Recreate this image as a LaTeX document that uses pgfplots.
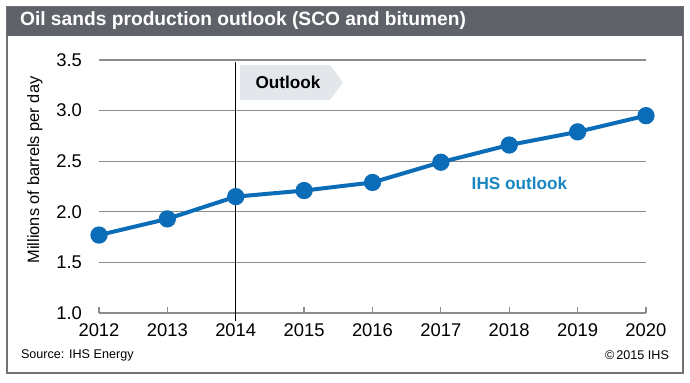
\documentclass[border=0pt]{standalone}
\usepackage{pgfplots}
\pgfplotsset{compat=1.18}
\usepackage{fontspec}
\setmainfont{Liberation Sans}
\definecolor{titlegray}{HTML}{5F6369}
\definecolor{framegray}{HTML}{6E7277}
\definecolor{lineblue}{HTML}{0B6CB8}
\definecolor{textblue}{HTML}{1A86C0}
\definecolor{gridgray}{HTML}{8C8C8C}
\definecolor{boxgray}{HTML}{E3E6EA}
\begin{document}
\begin{tikzpicture}[x=0.5pt,y=0.5pt]
% background and frame
\fill[white] (0,0) rectangle (690,382);
\draw[framegray,line width=1.2pt] (7,9) rectangle (683,375);
\fill[titlegray] (7,346) rectangle (683,375);
\node[anchor=west,text=white,font=\bfseries\fontsize{9.6}{11}\selectfont] at (13,361) {Oil sands production outlook (SCO and bitumen)};
% outlook arrow box
\fill[boxgray] (240,282) -- (330,282) -- (343,299.5) -- (330,317) -- (240,317) -- cycle;
\node[font=\bfseries\fontsize{8.6}{10}\selectfont] at (288,300) {Outlook};
\begin{axis}[
  at={(49.5pt,34.5pt)}, anchor=south west,
  scale only axis, width=273.5pt, height=126.5pt,
  xmin=2012, xmax=2020, ymin=1.0, ymax=3.5,
  xtick={2012,...,2020},
  ytick={1.0,1.5,...,3.5},
  xticklabel style={/pgf/number format/1000 sep={}, yshift=-2pt},
  yticklabel style={xshift=-5pt, /pgf/number format/.cd,fixed,fixed zerofill,precision=1},
  /pgf/number format/assume math mode=true,
  tick label style={font=\fontsize{9.2}{10}\selectfont},
  axis x line*=bottom,
  axis y line*=left,
  x axis line style={draw=gridgray,line width=0.6pt,-},
  y axis line style={draw=none},
  xtick style={draw=gridgray,line width=0.6pt},
  ytick style={draw=none},
  tick align=inside,
  major tick length=3pt,
  ymajorgrids,
  grid style={gridgray,line width=0.6pt},
  clip=false,
]
\addplot[draw=black, line width=0.6pt, forget plot] coordinates {(2014,0.92) (2014,3.48)};
\addplot[lineblue, line width=2pt, mark=*, mark size=3.3pt, mark options={fill=lineblue,draw=lineblue}] coordinates {
(2012,1.77) (2013,1.93) (2014,2.15) (2015,2.21) (2016,2.29) (2017,2.49) (2018,2.66) (2019,2.79) (2020,2.95)};
\node[text=textblue,font=\bfseries\fontsize{8.6}{10}\selectfont] at (axis cs:2018.15,2.28) {IHS outlook};
\end{axis}
\node[rotate=90,font=\fontsize{8.2}{10}\selectfont] at (35,212) {Millions of barrels per day};
\node[anchor=west,font=\fontsize{6.3}{8}\selectfont] at (14,27) {Source: IHS Energy};
\node[anchor=east,font=\fontsize{6.3}{8}\selectfont] at (676,27) {\textcopyright\,2015 IHS};
\end{tikzpicture}
\end{document}
